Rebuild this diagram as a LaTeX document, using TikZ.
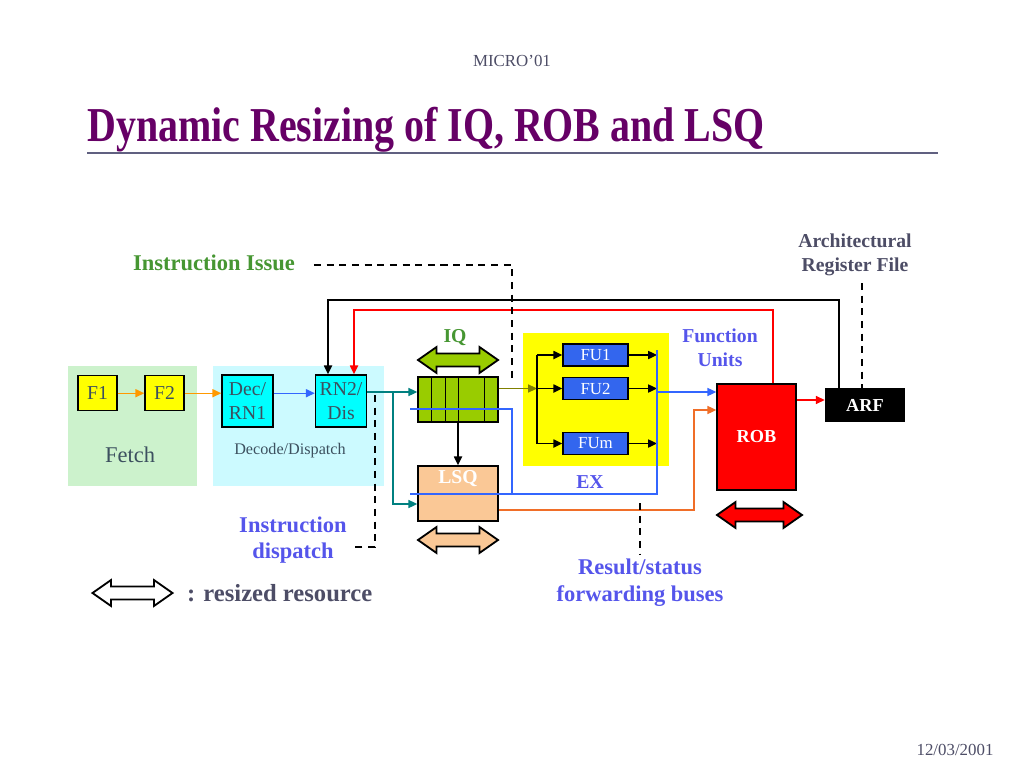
\documentclass[tikz,border=0pt]{standalone}
\usepackage{fontspec}
\setmainfont{Liberation Serif}
\usetikzlibrary{arrows.meta,shapes.arrows,positioning,calc}
\definecolor{fetchbg}{RGB}{204,242,204}
\definecolor{decbg}{RGB}{204,250,255}
\definecolor{fyellow}{RGB}{255,255,0}
\definecolor{dcyan}{RGB}{0,255,255}
\definecolor{robred}{RGB}{255,0,0}
\definecolor{iqgreen}{RGB}{153,204,0}
\definecolor{lsqpeach}{RGB}{250,200,150}
\definecolor{fublue}{RGB}{51,102,238}
\definecolor{busblue}{RGB}{51,102,255}
\definecolor{lblblue}{RGB}{85,85,235}
\definecolor{issuegreen}{RGB}{70,150,50}
\definecolor{titlepurple}{RGB}{102,0,102}
\definecolor{rulegray}{RGB}{96,96,128}
\definecolor{txtgray}{RGB}{77,77,102}
\definecolor{boxtext}{RGB}{60,80,95}
\definecolor{fetchorange}{RGB}{255,153,0}
\definecolor{lsqorange}{RGB}{240,110,40}
\definecolor{iqolive}{RGB}{128,128,0}
\definecolor{disteal}{RGB}{0,128,128}

\begin{document}
\begin{tikzpicture}[x=0.025cm, y=-0.025cm,
    >={Triangle[length=2.2mm,width=2mm]},
    unit/.style={draw, line width=1pt, inner sep=0pt, align=center, text=boxtext,
      font=\fontsize{14}{17}\selectfont},
    fu/.style={draw, line width=1pt, fill=fublue, text=white, inner sep=0pt,
      minimum width=1.625cm, minimum height=0.55cm, font=\fontsize{12}{14}\selectfont},
    resized/.style={double arrow, draw, line width=1.3pt, inner sep=0.14cm,
      minimum height=2cm, minimum width=0.6cm, double arrow head extend=0.16cm,
      double arrow tip angle=70},
    lbl/.style={text=lblblue, align=center, font=\fontsize{14}{17}\selectfont\bfseries},
    dashline/.style={line width=1.2pt, dash pattern=on 5pt off 4pt},
    wire/.style={line width=1pt}
  ]
  \useasboundingbox (0,0) rectangle (1024,768);

  % Header
  \node[text=txtgray, font=\fontsize{12}{14}\selectfont] (conf) at (512,61) {MICRO’01};
  \node[anchor=base west, text=titlepurple, inner sep=0pt] (title) at (87,142)
    {\scalebox{0.86}[1.05]{\fontsize{33}{38}\selectfont\bfseries Dynamic Resizing of IQ, ROB and LSQ}};
  \draw[rulegray, line width=2pt] (87,153) -- (938,153);
  \node[text=txtgray, font=\fontsize{12}{14}\selectfont] (date) at (955,750) {12/03/2001};

  % Stage backgrounds
  \node[fill=fetchbg, minimum width=3.225cm, minimum height=3cm, inner sep=0pt] (fetch) at (132.5,426) {};
  \node[fill=decbg, minimum width=4.275cm, minimum height=3cm, inner sep=0pt] (decode) at (298.5,426) {};
  \node[fill=fyellow, minimum width=3.65cm, minimum height=3.325cm, inner sep=0pt] (ex) at (596,399.5) {};
  \node[text=boxtext, font=\fontsize{16}{18}\selectfont] at (130,455) {Fetch};
  \node[text=boxtext, font=\fontsize{11.5}{13}\selectfont] at (290,451) {Decode/Dispatch};

  % Pipeline units
  \node[unit, fill=fyellow, minimum width=0.975cm, minimum height=0.875cm, anchor=north] (f1) at (97.5,375) {F1};
  \node[unit, fill=fyellow, minimum width=0.975cm, minimum height=0.875cm, anchor=north] (f2) at (164.5,375) {F2};
  \node[unit, fill=dcyan, minimum width=1.275cm, minimum height=1.3cm] (dec) at (247.5,401) {Dec/\\RN1};
  \node[unit, fill=dcyan, minimum width=1.275cm, minimum height=1.3cm] (rn2) at (341,401) {RN2/\\Dis};
  \node[unit, fill=iqgreen, minimum width=2cm, minimum height=1.125cm] (iq) at (458,399.5) {};
  \foreach \d in {14.5,28,41,67}
    \draw[line width=1pt] (iq.north west) ++(\d,0) -- ++(0,45);
  \node[unit, fill=lsqpeach, minimum width=2cm, minimum height=1.375cm] (lsq) at (458,493.5) {};
  \node[text=white, font=\fontsize{14}{16}\selectfont\bfseries, below=0pt of lsq.north] (lsqtxt) {LSQ};
  \node[fu] (fu1) at (595.5,355) {FU1};
  \node[fu] (fu2) at (595.5,388.5) {FU2};
  \node[fu] (fum) at (595.5,443.5) {FUm};
  \node[unit, fill=robred, text=white, minimum width=1.975cm, minimum height=2.65cm,
    font=\fontsize{13}{15}\selectfont\bfseries] (rob) at (756.5,437) {ROB};
  \node[fill=black, text=white, minimum width=2cm, minimum height=0.85cm, inner sep=0pt,
    font=\fontsize{13}{15}\selectfont\bfseries] (arf) at (865,405) {ARF};

  % Resized resources
  \node[resized, fill=iqgreen] (iqsize) at (458,360) {};
  \node[resized, fill=lsqpeach] (lsqsize) at (458,540) {};
  \node[resized, fill=robred, minimum height=2.125cm] (robsize) at (759.5,515) {};
  \node[resized, fill=white] (legsize) at (132.5,593) {};
  \node[right=0.2cm of legsize, text=txtgray, font=\fontsize{17.5}{19}\selectfont\bfseries] (legend) {: resized resource};

  % Labels
  \node[text=issuegreen, font=\fontsize{14}{16}\selectfont\bfseries] (iqlbl) at (455,338) {IQ};
  \node[lbl] (exlbl) at (590,482) {EX};
  \node[lbl] (fulbl) at (720,348) {Function\\Units};
  \node[lbl, text=txtgray] (arflbl) at (855,255) {Architectural\\Register File};
  \node[text=issuegreen, font=\fontsize{16}{18}\selectfont\bfseries] (issue) at (214,263) {Instruction Issue};
  \node[lbl, font=\fontsize{16}{19}\selectfont\bfseries] (disp) at (293,540) {Instruction\\dispatch};
  \node[lbl, font=\fontsize{16}{19}\selectfont\bfseries] (res) at (640,583) {Result/status\\forwarding buses};

  % Bend points
  \coordinate (tap) at (393,392);
  \coordinate (busin) at (537,388.5);
  \coordinate (busout) at (657,350);
  \coordinate (fwdtop) at (512,409);
  \coordinate (fwdbot) at (410,494);
  \coordinate (orbend) at (694,410);
  \coordinate (fbk) at (328,300);
  \coordinate (rbk) at (354,310);
  \coordinate (iss) at (512,265);
  \coordinate (dispc) at (375,547);
  \coordinate (arfdash) at (862,283);
  \coordinate (resdash) at (640,503);

  % Front end
  \draw[->, fetchorange, wire] (f1) -- (f2);
  \draw[->, fetchorange, wire] (f2.east) -- (dec.west |- f2.east);
  \draw[->, busblue, wire] (dec.east |- f2.east) -- (rn2.west |- f2.east);
  \draw[->, disteal, wire] (rn2.east |- tap) -- (iq.west |- tap);
  \draw[->, disteal, wire] (tap) |- (lsq.west |- 0,504);

  % Issue and execute
  \draw[->, black, line width=1.2pt] (iq) -- (lsq);
  \draw[->, iqolive, wire] (iq.east |- busin) -- (busin);
  \draw[line width=1.2pt] (busin |- fu1) -- (busin |- fum);
  \foreach \f in {fu1,fu2,fum} {
    \draw[->, line width=1.2pt] (busin |- \f) -- (\f);
    \draw[->, line width=1.2pt] (\f) -- (busout |- \f);
  }

  % Forwarding buses
  \draw[busblue, wire] (fwdtop -| fwdbot) -- (fwdtop) -- (fwdtop |- fwdbot);
  \draw[busblue, wire] (fwdbot) -| (busout);
  \draw[->, busblue, wire] (busout |- 0,392) -- (rob.west |- 0,392);
  \draw[->, lsqorange, wire] (lsq.east |- 0,510) -| (orbend) -- (rob.west |- orbend);

  % Commit and feedback
  \draw[->, robred, wire] (rob.east |- 0,400) -- (arf.west |- 0,400);
  \draw[->, line width=1.2pt] (arf.north -| 839,0) |- (fbk) -- (rn2.north -| fbk);
  \draw[->, robred, line width=1.2pt] (rob.north -| 773,0) |- (rbk) -- (rn2.north -| rbk);

  % Callouts
  \draw[dashline] (issue.east) ++(14,2) -- (iss) -- (iss |- 0,383);
  \draw[dashline] (dispc |- 0,395) -- (dispc) -- (disp.east |- dispc);
  \draw[dashline] (arfdash) -- (arfdash |- arf.north);
  \draw[dashline] (resdash) -- (resdash |- 0,555);
\end{tikzpicture}
\end{document}
